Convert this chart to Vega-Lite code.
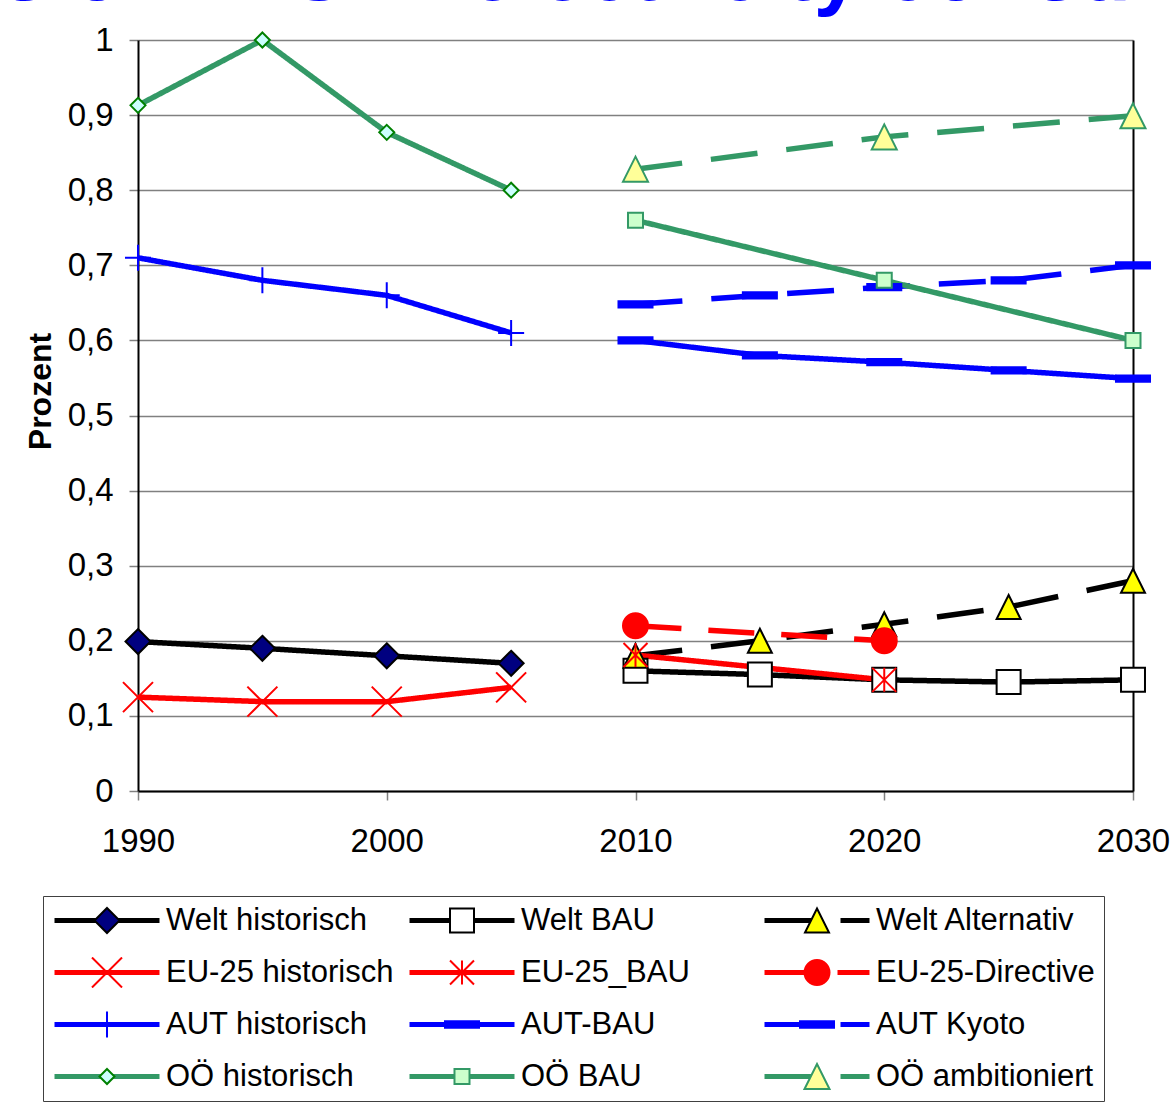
{
  "$schema": "https://vega.github.io/schema/vega-lite/v6.json",
  "autosize": "none",
  "width": 995,
  "height": 751,
  "padding": {"left": 138, "top": 40, "right": 41, "bottom": 317},
  "title": {"text": "Shares of RES in electricity consumption", "font": "Liberation Sans", "fontSize": 84, "fontWeight": "bold", "color": "#0000FF", "anchor": "start", "frame": "group", "dx": -370, "dy": 60, "offset": 0, "baseline": "alphabetic"},
  "config": {"view": {"stroke": null}, "font": "Liberation Sans"},
  "data": {"values": [
    {"s": "Welt historisch", "year": 1990, "v": 0.199},
    {"s": "Welt historisch", "year": 1995, "v": 0.19},
    {"s": "Welt historisch", "year": 2000, "v": 0.18},
    {"s": "Welt historisch", "year": 2005, "v": 0.17},
    {"s": "EU-25 historisch", "year": 1990, "v": 0.125},
    {"s": "EU-25 historisch", "year": 1995, "v": 0.119},
    {"s": "EU-25 historisch", "year": 2000, "v": 0.119},
    {"s": "EU-25 historisch", "year": 2005, "v": 0.138},
    {"s": "AUT historisch", "year": 1990, "v": 0.71},
    {"s": "AUT historisch", "year": 1995, "v": 0.68},
    {"s": "AUT historisch", "year": 2000, "v": 0.66},
    {"s": "AUT historisch", "year": 2005, "v": 0.61},
    {"s": "OÖ historisch", "year": 1990, "v": 0.913},
    {"s": "OÖ historisch", "year": 1995, "v": 1.0},
    {"s": "OÖ historisch", "year": 2000, "v": 0.877},
    {"s": "OÖ historisch", "year": 2005, "v": 0.8},
    {"s": "Welt BAU", "year": 2010, "v": 0.16},
    {"s": "Welt BAU", "year": 2015, "v": 0.155},
    {"s": "Welt BAU", "year": 2020, "v": 0.148},
    {"s": "Welt BAU", "year": 2025, "v": 0.145},
    {"s": "Welt BAU", "year": 2030, "v": 0.148},
    {"s": "Welt Alternativ", "year": 2010, "v": 0.18},
    {"s": "Welt Alternativ", "year": 2015, "v": 0.2},
    {"s": "Welt Alternativ", "year": 2020, "v": 0.222},
    {"s": "Welt Alternativ", "year": 2025, "v": 0.245},
    {"s": "Welt Alternativ", "year": 2030, "v": 0.28},
    {"s": "EU-25_BAU", "year": 2010, "v": 0.181},
    {"s": "EU-25_BAU", "year": 2020, "v": 0.148},
    {"s": "EU-25-Directive", "year": 2010, "v": 0.22},
    {"s": "EU-25-Directive", "year": 2020, "v": 0.2},
    {"s": "AUT-BAU", "year": 2010, "v": 0.6},
    {"s": "AUT-BAU", "year": 2015, "v": 0.58},
    {"s": "AUT-BAU", "year": 2020, "v": 0.571},
    {"s": "AUT-BAU", "year": 2025, "v": 0.56},
    {"s": "AUT-BAU", "year": 2030, "v": 0.549},
    {"s": "AUT Kyoto", "year": 2010, "v": 0.648},
    {"s": "AUT Kyoto", "year": 2015, "v": 0.66},
    {"s": "AUT Kyoto", "year": 2020, "v": 0.671},
    {"s": "AUT Kyoto", "year": 2025, "v": 0.68},
    {"s": "AUT Kyoto", "year": 2030, "v": 0.7},
    {"s": "OÖ BAU", "year": 2010, "v": 0.76},
    {"s": "OÖ BAU", "year": 2020, "v": 0.68},
    {"s": "OÖ BAU", "year": 2030, "v": 0.6},
    {"s": "OÖ ambitioniert", "year": 2010, "v": 0.828},
    {"s": "OÖ ambitioniert", "year": 2020, "v": 0.871},
    {"s": "OÖ ambitioniert", "year": 2030, "v": 0.899}
  ]},
  "resolve": {
    "scale": {"stroke": "independent", "strokeDash": "independent", "shape": "independent", "fill": "independent"},
    "axis": {"y": "independent"}
  },
  "layer": [
    {
      "mark": {"type": "line", "strokeWidth": 5.5, "strokeJoin": "round"},
      "encoding": {
        "x": {"field": "year", "type": "quantitative", "scale": {"domain": [1990, 2030], "nice": false, "zero": false},
          "axis": {"values": [1990, 2000, 2010, 2020, 2030], "format": "d", "title": null, "grid": false, "labelFontSize": 33, "labelColor": "black", "labelPadding": 25, "labelFlush": false, "tickSize": 9, "tickColor": "#808080", "tickWidth": 1.5, "domainColor": "black", "domainWidth": 2}},
        "y": {"field": "v", "type": "quantitative", "scale": {"domain": [0, 1], "nice": false},
          "axis": {"values": [0, 0.1, 0.2, 0.3, 0.4, 0.5, 0.6, 0.7, 0.8, 0.9, 1], "labelExpr": "replace(format(datum.value, '.1~f'), '.', ',')", "labelFontSize": 33, "labelColor": "black", "labelPadding": 16, "tickSize": 9, "tickColor": "#808080", "tickWidth": 1.5, "domainColor": "black", "domainWidth": 2, "grid": true, "gridColor": "#808080", "gridWidth": 1.5, "title": "Prozent", "titleFontSize": 32, "titleFontWeight": "bold", "titleColor": "black", "titleAngle": 270, "titleX": -88, "titleY": 351, "titleAlign": "center", "titleBaseline": "alphabetic"}},
        "stroke": {"field": "s", "type": "nominal",
          "scale": {"domain": ["Welt historisch", "EU-25 historisch", "AUT historisch", "OÖ historisch", "Welt BAU", "EU-25_BAU", "AUT-BAU", "OÖ BAU", "Welt Alternativ", "EU-25-Directive", "AUT Kyoto", "OÖ ambitioniert"],
            "range": ["#000000", "#FF0000", "#0000FF", "#339966", "#000000", "#FF0000", "#0000FF", "#339966", "#000000", "#FF0000", "#0000FF", "#339966"]},
          "legend": {"orient": "none", "legendX": -95, "legendY": 856, "columns": 3, "gridAlign": "all", "clipHeight": 31, "symbolType": "stroke", "symbolSize": 11025, "symbolStrokeWidth": 5, "labelFontSize": 31, "labelFont": "Liberation Sans", "labelColor": "black", "labelOffset": 4, "labelLimit": 400, "columnPadding": 13, "rowPadding": 20, "padding": 9, "strokeColor": "#404040", "title": null}},
        "strokeDash": {"field": "s", "type": "nominal",
          "scale": {"domain": ["Welt historisch", "EU-25 historisch", "AUT historisch", "OÖ historisch", "Welt BAU", "EU-25_BAU", "AUT-BAU", "OÖ BAU", "Welt Alternativ", "EU-25-Directive", "AUT Kyoto", "OÖ ambitioniert"],
            "range": [[1, 0], [1, 0], [1, 0], [1, 0], [1, 0], [1, 0], [1, 0], [1, 0], [47, 29], [46, 27], [47, 29], [47, 29]]},
          "legend": {"orient": "none", "legendX": -95, "legendY": 856, "columns": 3, "gridAlign": "all", "clipHeight": 31, "symbolType": "stroke", "symbolSize": 11025, "symbolStrokeWidth": 5, "labelFontSize": 31, "labelFont": "Liberation Sans", "labelColor": "black", "labelOffset": 4, "labelLimit": 400, "columnPadding": 13, "rowPadding": 20, "padding": 9, "strokeColor": "#404040", "title": null}}
      }
    },
    {
      "mark": {"type": "point", "filled": true, "size": 11664, "strokeWidth": 2, "opacity": 1},
      "encoding": {
        "x": {"field": "year", "type": "quantitative", "scale": {"domain": [1990, 2030], "nice": false, "zero": false},
          "axis": {"values": [1990, 2000, 2010, 2020, 2030], "format": "d", "title": null, "grid": false, "labelFontSize": 33, "labelColor": "black", "labelPadding": 25, "labelFlush": false, "tickSize": 9, "tickColor": "#808080", "tickWidth": 1.5, "domainColor": "black", "domainWidth": 2}},
        "y": {"field": "v", "type": "quantitative", "scale": {"domain": [0, 1], "nice": false},
          "axis": {"orient": "right", "labels": false, "ticks": false, "grid": false, "domain": true, "domainColor": "black", "domainWidth": 2, "title": null}},
        "shape": {"field": "s", "type": "nominal",
          "scale": {"domain": ["Welt historisch", "EU-25 historisch", "AUT historisch", "OÖ historisch", "Welt BAU", "EU-25_BAU", "AUT-BAU", "OÖ BAU", "Welt Alternativ", "EU-25-Directive", "AUT Kyoto", "OÖ ambitioniert"],
            "range": [
              "M-1,0M1,0M0,-0.2315L0.2315,0L0,0.2315L-0.2315,0Z",
              "M-1,0M1,0M-0.278,-0.278L0.278,0.278M-0.278,0.278L0.278,-0.278",
              "M-1,0M1,0M-0.241,0L0.241,0M0,-0.241L0,0.241",
              "M-1,0M1,0M0,-0.139L0.139,0L0,0.139L-0.139,0Z",
              "M-1,0M1,0M-0.222,-0.222H0.222V0.222H-0.222Z",
              "M-1,0M1,0M-0.222,-0.222L0.222,0.222M-0.222,0.222L0.222,-0.222M0,-0.222L0,0.222",
              "M-1,0M1,0M-0.315,-0.058H0.315V0.058H-0.315Z",
              "M-1,0M1,0M-0.139,-0.139H0.139V0.139H-0.139Z",
              "M-1,0M1,0M0,-0.222L0.222,0.222H-0.222Z",
              "M-1,0M1,0M-0.2315,0A0.2315,0.2315,0,1,0,0.2315,0A0.2315,0.2315,0,1,0,-0.2315,0Z",
              "M-1,0M1,0M-0.315,-0.058H0.315V0.058H-0.315Z",
              "M-1,0M1,0M0,-0.2315L0.2315,0.2315H-0.2315Z"
            ]},
          "legend": {"orient": "none", "legendX": -95, "legendY": 856, "columns": 3, "gridAlign": "all", "clipHeight": 31, "symbolSize": 11664, "symbolStrokeWidth": 2, "labelFontSize": 31, "labelFont": "Liberation Sans", "labelOpacity": 0, "labelOffset": 4, "labelLimit": 400, "columnPadding": 13, "rowPadding": 20, "padding": 9, "title": null}},
        "fill": {"field": "s", "type": "nominal",
          "scale": {"domain": ["Welt historisch", "EU-25 historisch", "AUT historisch", "OÖ historisch", "Welt BAU", "EU-25_BAU", "AUT-BAU", "OÖ BAU", "Welt Alternativ", "EU-25-Directive", "AUT Kyoto", "OÖ ambitioniert"],
            "range": ["#000080", "transparent", "transparent", "#CCFFFF", "#FFFFFF", "transparent", "#0000FF", "#CCFFCC", "#FFFF00", "#FF0000", "#0000FF", "#FFFF99"]},
          "legend": {"orient": "none", "legendX": -95, "legendY": 856, "columns": 3, "gridAlign": "all", "clipHeight": 31, "symbolSize": 11664, "symbolStrokeWidth": 2, "labelFontSize": 31, "labelFont": "Liberation Sans", "labelOpacity": 0, "labelOffset": 4, "labelLimit": 400, "columnPadding": 13, "rowPadding": 20, "padding": 9, "title": null}},
        "stroke": {"field": "s", "type": "nominal",
          "scale": {"domain": ["Welt historisch", "EU-25 historisch", "AUT historisch", "OÖ historisch", "Welt BAU", "EU-25_BAU", "AUT-BAU", "OÖ BAU", "Welt Alternativ", "EU-25-Directive", "AUT Kyoto", "OÖ ambitioniert"],
            "range": ["#000000", "#FF0000", "#0000FF", "#008000", "#000000", "#FF0000", "#0000FF", "#339966", "#000000", "#FF0000", "#0000FF", "#339966"]},
          "legend": {"orient": "none", "legendX": -95, "legendY": 856, "columns": 3, "gridAlign": "all", "clipHeight": 31, "symbolSize": 11664, "symbolStrokeWidth": 2, "labelFontSize": 31, "labelFont": "Liberation Sans", "labelOpacity": 0, "labelOffset": 4, "labelLimit": 400, "columnPadding": 13, "rowPadding": 20, "padding": 9, "title": null}}
      }
    }
  ]
}
